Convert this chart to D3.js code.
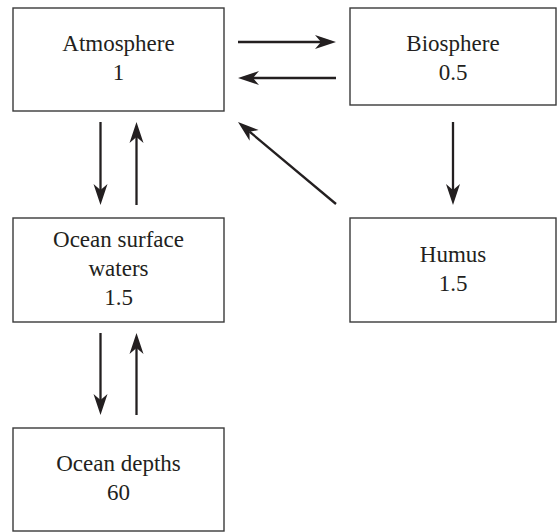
<!DOCTYPE html>
<html>
<head>
<meta charset="utf-8">
<script src="https://cdn.jsdelivr.net/npm/d3@7"></script>
</head>
<body style="margin:0">
<script>
// reservoirs (carbon, relative units)
const names = ["Atmosphere", "Biosphere", "Ocean surface\nwaters", "Humus", "Ocean depths"];
const values = ["1", "0.5", "1.5", "1.5", "60"];
// flows between reservoirs, by index in names
const flowSource = [0, 1, 0, 2, 1, 3, 2, 4];
const flowTarget = [1, 0, 2, 0, 3, 0, 4, 2];

const width = 558, height = 532;
const ink = "#231f20";

// layout of the boxes: column / row in a grid
const col = [0, 1, 0, 1, 0];
const row = [0, 0, 1, 1, 2];
const boxX = [13, 350], boxW = [211, 206];
const boxY = [8, 218, 428], boxH = [103, 104, 103];
const bioH = 97; // biosphere box is a little shorter

const svg = d3.select("body").append("svg")
  .attr("width", width)
  .attr("height", height)
  .style("display", "block");

const nodes = names.map((n, i) => ({
  name: n,
  value: values[i],
  x: boxX[col[i]],
  y: boxY[row[i]],
  w: boxW[col[i]],
  h: i === 1 ? bioH : boxH[row[i]]
}));

svg.selectAll("rect.box")
  .data(nodes)
  .enter().append("rect")
  .attr("class", "box")
  .attr("x", d => d.x)
  .attr("y", d => d.y)
  .attr("width", d => d.w)
  .attr("height", d => d.h)
  .style("fill", "#fff")
  .style("stroke", "#3a3a3a")
  .style("stroke-width", 1.4);

// one text element per line, centred in its box
const lineGap = 29;
const labels = [];
nodes.forEach(d => {
  const lines = d.name.split("\n").concat([d.value]);
  // biosphere text lines up with atmosphere
  const cy = (d.name === "Biosphere" ? nodes[0].y + nodes[0].h / 2 : d.y + d.h / 2);
  lines.forEach((l, k) => labels.push({
    text: l,
    x: d.x + d.w / 2,
    y: cy + 6 + (k - (lines.length - 1) / 2) * lineGap
  }));
});

svg.selectAll("text.label")
  .data(labels)
  .enter().append("text")
  .attr("class", "label")
  .attr("x", d => d.x)
  .attr("y", d => d.y)
  .attr("text-anchor", "middle")
  .attr("font-family", "Liberation Serif")
  .attr("font-size", 23)
  .style("fill", ink)
  .text(d => d.text);

// arrow geometry: start/end points for each flow
function flowEnds(s, t) {
  const a = nodes[s], b = nodes[t];
  const gap = 11, off = 18;
  if (a.y === b.y) {
    // horizontal pair (top row)
    const y = a.x < b.x ? 42 : 78;
    const x0 = nodes[0].x + nodes[0].w + 14, x1 = nodes[1].x - 14;
    return a.x < b.x ? [[x0, y], [x1, y]] : [[x1, y], [x0, y]];
  }
  if (a.x === b.x) {
    const top = Math.min(a.y + a.h, b.y + b.h) + gap;
    const bot = Math.max(a.y, b.y) - 13;
    const cx = a.x + a.w / 2;
    if (a.y < b.y) {
      const x = a.x === nodes[0].x ? cx - off : cx;
      return [[x, a === nodes[1] ? nodes[0].y + nodes[0].h + gap : top], [x, bot]];
    }
    return [[cx + off, bot], [cx + off, top]];
  }
  // diagonal: humus -> atmosphere
  return [[b.x + b.w + 112, a.y - 14], [b.x + b.w + 14, b.y + b.h + gap]];
}

const flows = flowSource.map((s, i) => {
  const [p0, p1] = flowEnds(s, flowTarget[i]);
  return { p0, p1, ang: Math.atan2(p1[1] - p0[1], p1[0] - p0[0]) };
});

const headLen = 21, headW = 7, notch = 15;
svg.selectAll("line.flow")
  .data(flows)
  .enter().append("line")
  .attr("class", "flow")
  .attr("x1", d => d.p0[0])
  .attr("y1", d => d.p0[1])
  .attr("x2", d => d.p1[0] - Math.cos(d.ang) * notch)
  .attr("y2", d => d.p1[1] - Math.sin(d.ang) * notch)
  .style("stroke", ink)
  .style("stroke-width", 2.3);

svg.selectAll("path.head")
  .data(flows)
  .enter().append("path")
  .attr("class", "head")
  .attr("d", `M0,0L${-headLen},${-headW}L${-notch},0L${-headLen},${headW}Z`)
  .attr("transform", d => `translate(${d.p1[0]},${d.p1[1]}) rotate(${d.ang * 180 / Math.PI})`)
  .style("fill", ink);
</script>
</body>
</html>
